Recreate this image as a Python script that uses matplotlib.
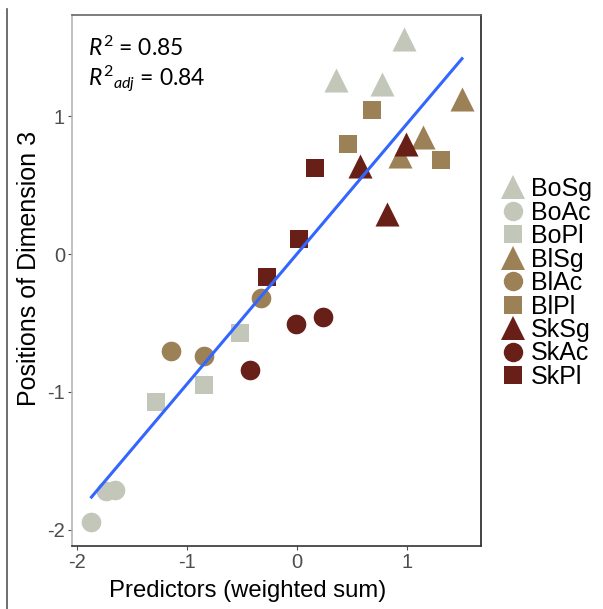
import numpy as np
import matplotlib
matplotlib.use("Agg")
import matplotlib.pyplot as plt
from matplotlib.lines import Line2D

# ---- data ----
groups = ["BoSg", "BoAc", "BoPl", "BlSg", "BlAc", "BlPl", "SkSg", "SkAc", "SkPl"]
group_colors = ["#C2C7BA", "#C2C7BA", "#C2C7BA",
                "#9C8157", "#9C8157", "#9C8157",
                "#681F18", "#681F18", "#681F18"]
group_markers = ["^", "o", "s", "^", "o", "s", "^", "o", "s"]

x_vals = {
    "BoSg": [0.97, 0.35, 0.77],
    "BoAc": [-1.74, -1.66, -1.87],
    "BoPl": [-0.52, -1.28, -0.85],
    "BlSg": [1.50, 1.15, 0.94],
    "BlAc": [-0.33, -1.15, -0.85],
    "BlPl": [0.68, 0.46, 1.31],
    "SkSg": [0.99, 0.57, 0.82],
    "SkAc": [-0.01, 0.24, -0.43],
    "SkPl": [0.16, 0.02, -0.27],
}
y_vals = {
    "BoSg": [1.56, 1.26, 1.23],
    "BoAc": [-1.72, -1.71, -1.94],
    "BoPl": [-0.57, -1.07, -0.95],
    "BlSg": [1.12, 0.85, 0.71],
    "BlAc": [-0.32, -0.70, -0.74],
    "BlPl": [1.04, 0.80, 0.68],
    "SkSg": [0.80, 0.64, 0.29],
    "SkAc": [-0.51, -0.46, -0.84],
    "SkPl": [0.62, 0.11, -0.17],
}
x_ticks = [-2, -1, 0, 1]
y_ticks = [-2, -1, 0, 1]
r2_text = "0.85"
r2adj_text = "0.84"

plt.rcParams['axes.unicode_minus'] = False
plt.rcParams['mathtext.fontset'] = 'custom'
plt.rcParams['mathtext.rm'] = 'Lato'
plt.rcParams['mathtext.it'] = 'Lato:italic'

W, H = 603, 609
fig = plt.figure(figsize=(W / 100, H / 100), dpi=100)
ax = fig.add_axes([72 / W, 1 - 546 / H, (481 - 72) / W, (546 - 15) / H])

msize = {"^": 300, "o": 200, "s": 185}
for g, c, m in zip(groups, group_colors, group_markers):
    ax.scatter(x_vals[g], y_vals[g], s=msize[m], marker=m, color=c,
               linewidths=0, zorder=3)

# linear fit
allx = np.concatenate([x_vals[g] for g in groups])
ally = np.concatenate([y_vals[g] for g in groups])
b, a = np.polyfit(allx, ally, 1)
xs = np.array([allx.min(), allx.max()])
ax.plot(xs, a + b * xs, color="#3366FF", lw=2.2, zorder=4)

ax.set_xlim(-2.047, 1.673)
ax.set_ylim(-2.116, 1.732)
ax.set_xticks(x_ticks)
ax.set_yticks(y_ticks)
ax.tick_params(axis='both', labelsize=14.5, colors="#4D4D4D", length=3,
               width=0.8, pad=2)
for lbl in ax.get_xticklabels() + ax.get_yticklabels():
    lbl.set_fontfamily("Liberation Sans")
ax.spines['left'].set_color("#B5B5B5")
ax.spines['top'].set_color("#666666")
ax.spines['right'].set_color("#222222")
ax.spines['bottom'].set_color("#333333")
for s in ax.spines.values():
    s.set_linewidth(1.2)

ax.text(0.038, 0.938, r"$R^2$ = " + r2_text, transform=ax.transAxes,
        fontsize=16.5, family="Lato", va="center", ha="left")
ax.text(0.038, 0.878, r"$R^2{}_{adj}$ = " + r2adj_text, transform=ax.transAxes,
        fontsize=16.5, family="Lato", va="center", ha="left")

fig.text(248 / W, 1 - 591 / H, "Predictors (weighted sum)", fontsize=17.2,
         family="Liberation Sans", ha="center", va="center")
fig.text(29 / W, 1 - 268 / H, "Positions of Dimension 3", fontsize=18,
         family="Liberation Sans", ha="center", va="center", rotation=90)

# legend
handles = [Line2D([], [], marker=m, color=c, linestyle='None',
                  markersize={"^": 17, "o": 14, "s": 13.5}[m], markeredgewidth=0)
           for c, m in zip(group_colors, group_markers)]
leg = fig.legend(handles, groups, loc='center left',
                 bbox_to_anchor=(497 / W, 1 - 283 / H), frameon=False,
                 prop={'family': 'Liberation Sans', 'size': 18},
                 handletextpad=0.05, labelspacing=-0.02, borderaxespad=0,
                 handlelength=1.3, borderpad=0)

# figure-level left rule
fig.add_artist(Line2D([7 / W, 7 / W], [0, 1 - 9 / H], transform=fig.transFigure,
                      color="#555555", lw=1.2))

fig.savefig("out.png", dpi=100)
